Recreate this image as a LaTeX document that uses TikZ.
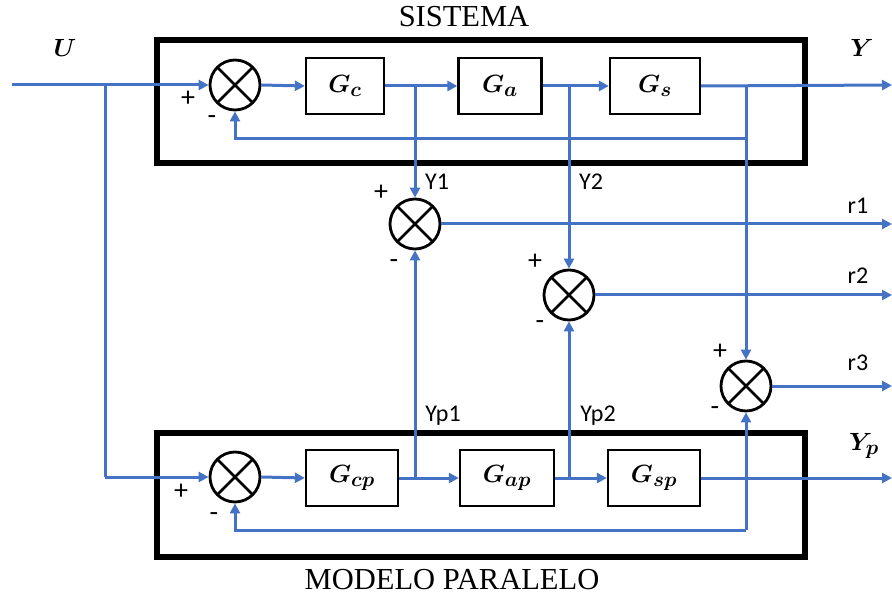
\documentclass[tikz,border=0pt]{standalone}
\usepackage{amsmath}
\usepackage{fontspec}
\setmainfont{Liberation Serif}
\newfontfamily\labfont{Carlito}
\usetikzlibrary{arrows.meta}
\definecolor{lnblue}{HTML}{4472C4}
\begin{document}
\begin{tikzpicture}[x=1pt,y=-1pt,
  wire/.style={lnblue,line width=3pt},
  sig/.style={wire,-{Triangle[length=10pt,width=10pt]}},
  sumj/.style={circle,draw=black,line width=2.8pt,minimum size=50pt,inner sep=0pt,
    path picture={\draw[black,line width=2.5pt]
      (path picture bounding box.north west)--(path picture bounding box.south east)
      (path picture bounding box.north east)--(path picture bounding box.south west);}},
  blk/.style={draw=black,fill=white,line width=2.3pt,minimum height=56pt,inner sep=0pt,
    font=\fontsize{30}{30}\selectfont},
  frame/.style={draw=black,line width=6pt},
  lbl/.style={font=\labfont\fontsize{24}{24}\selectfont,inner sep=0pt},
  pm/.style={font=\labfont\fontsize{28}{28}\selectfont,inner sep=0pt},
  ttl/.style={font=\fontsize{30.5}{30.5}\selectfont,inner sep=0pt},
  big/.style={font=\fontsize{30}{30}\selectfont,inner sep=0pt}
]
\useasboundingbox (0,0) rectangle (892,596);

% frames
\draw[frame] (157,40) rectangle (805,163);
\draw[frame] (157,433) rectangle (805,557);
\node[ttl] (tsis) at (464,17) {SISTEMA};
\node[ttl] (tmod) at (452,580) {MODELO PARALELO};

% top system
\node[sumj] (s1) at (235,85) {};
\node[blk,minimum width=78pt] (gc) at (345,86) {$\boldsymbol{G_c}$};
\node[blk,minimum width=83pt] (ga) at (500,86) {$\boldsymbol{G_a}$};
\node[blk,minimum width=90pt] (gs) at (655,86) {$\boldsymbol{G_s}$};

% bottom model
\node[sumj] (s2) at (235,477) {};
\node[blk,minimum width=92pt] (gcp) at (352,478) {$\boldsymbol{G_{cp}}$};
\node[blk,minimum width=94pt] (gap) at (507,478) {$\boldsymbol{G_{ap}}$};
\node[blk,minimum width=92pt] (gsp) at (654,478) {$\boldsymbol{G_{sp}}$};

% residual sums
\node[sumj] (r1s) at (415,224) {};
\node[sumj] (r2s) at (569,295) {};
\node[sumj] (r3s) at (746,386) {};

% coordinates
\coordinate (in) at (12,85);
\coordinate (bu) at (105,85);
\coordinate (bd) at (105,477);
\coordinate (y1) at (415,85);
\coordinate (y2) at (569,85);
\coordinate (yb) at (746,85);
\coordinate (fb) at (746,139);
\coordinate (fbl) at (235,139);
\coordinate (yout) at (892,85);
\coordinate (yp1) at (415,478);
\coordinate (yp2) at (569,478);
\coordinate (ypb) at (746,478);
\coordinate (fpb) at (746,530);
\coordinate (fpl) at (235,530);
\coordinate (ypout) at (892,478);
\coordinate (r1o) at (892,224);
\coordinate (r2o) at (892,295);
\coordinate (r3o) at (892,386);

% top signals
\draw[sig] (in) -- (s1.west);
\draw[wire] (bu) -- (bd);
\draw[sig] (bd) -- (s2.west);
\draw[sig] (s1.east) -- (gc.west);
\draw[sig] (gc.east) -- (ga.west);
\draw[sig] (ga.east) -- (gs.west);
\draw[sig] (gs.east) -- (yout);
\draw[sig] (y1) -- (r1s.north);
\draw[sig] (y2) -- (r2s.north);
\draw[sig] (yb) -- (r3s.north);
\draw[sig] (fb) -- (fbl) -- (s1.south);

% bottom signals
\draw[sig] (s2.east) -- (gcp.west);
\draw[sig] (gcp.east) -- (gap.west);
\draw[sig] (gap.east) -- (gsp.west);
\draw[sig] (gsp.east) -- (ypout);
\draw[sig] (yp1) -- (r1s.south);
\draw[sig] (yp2) -- (r2s.south);
\draw[sig] (fpb) -- (r3s.south);
\draw[wire] (ypb) -- (fpb);
\draw[sig] (fpb) -- (fpl) -- (s2.south);

% residual outputs
\draw[sig] (r1s.east) -- (r1o);
\draw[sig] (r2s.east) -- (r2o);
\draw[sig] (r3s.east) -- (r3o);

% labels
\node[big] (lu) at (65,48) {$\boldsymbol{U}$};
\node[big] (ly) at (862,48) {$\boldsymbol{Y}$};
\node[big] (lyp) at (864,446) {$\boldsymbol{Y_p}$};
\node[pm] (p1) at (188,99) {+};
\node[pm] (m1) at (212,120) {-};
\node[pm] (p2) at (181,492) {+};
\node[pm] (m2) at (214,517) {-};
\node[lbl] (ly1) at (437,182) {Y1};
\node[lbl] (ly2) at (591,182) {Y2};
\node[lbl] (lyp1) at (443,416) {Yp1};
\node[lbl] (lyp2) at (598,416) {Yp2};
\node[pm] (pr1) at (381,193) {+};
\node[pm] (mr1) at (394,264) {-};
\node[pm] (pr2) at (535,262) {+};
\node[pm] (mr2) at (540,325) {-};
\node[pm] (pr3) at (720,352) {+};
\node[pm] (mr3) at (715,411) {-};
\node[lbl] (lr1) at (858,206) {r1};
\node[lbl] (lr2) at (858,276) {r2};
\node[lbl] (lr3) at (858,363) {r3};
\end{tikzpicture}
\end{document}
